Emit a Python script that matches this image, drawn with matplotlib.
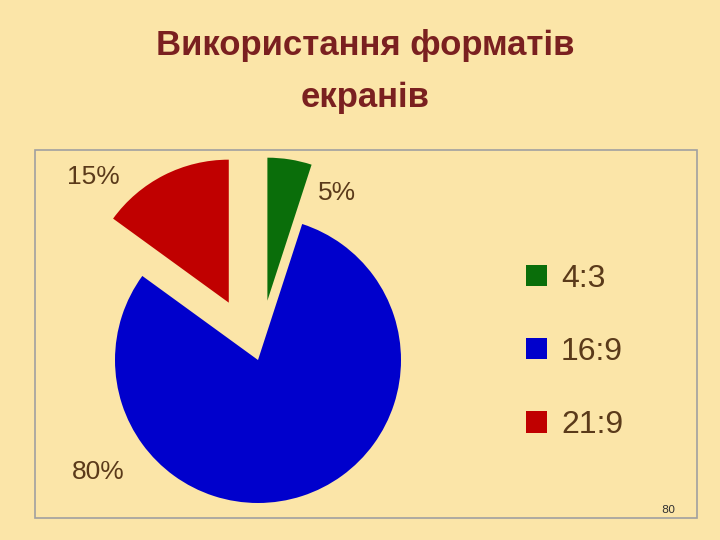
import matplotlib.pyplot as plt
from matplotlib.patches import Rectangle, Patch

categories = ['4:3', '16:9', '21:9']
shares = [5, 80, 15]
colors = ['#0A6E0A', '#0000CC', '#C00000']
explode = [0.42, 0, 0.45]
# label positions (data units, pie radius = 1)
label_pos = [(0.55, 1.17), (-1.12, -0.78), (-1.15, 1.28)]

bg = '#FBE5A8'
txt = '#5A3A1A'

fig = plt.figure(figsize=(7.2, 5.4), dpi=100, facecolor=bg)
fig.patches.append(Rectangle((35 / 720, 22 / 540), 662 / 720, 368 / 540,
                             transform=fig.transFigure, fill=False,
                             edgecolor='#A0A0A0', lw=1.2))
fig.text(365 / 720, 1 - 45 / 540, 'Використання форматів', ha='center', va='center',
         fontsize=25, fontweight='bold', color='#7A2020', family='Liberation Sans')
fig.text(365 / 720, 1 - 97 / 540, 'екранів', ha='center', va='center',
         fontsize=25, fontweight='bold', color='#7A2020', family='Liberation Sans')

ax = fig.add_axes([43.5 / 720, -34.5 / 540, 429 / 720, 429 / 540])
ax.set_facecolor('none')
ax.pie(shares, colors=colors, explode=explode, startangle=90, counterclock=False,
       radius=1, wedgeprops=dict(linewidth=0))
ax.set_xlim(-1.5, 1.5)
ax.set_ylim(-1.5, 1.5)
ax.set_aspect('equal')
ax.axis('off')
for (x, y), s in zip(label_pos, shares):
    ax.text(x, y, f'{s}%', ha='center', va='center', fontsize=19, color=txt,
            family='Liberation Sans', clip_on=False)

handles = [Patch(facecolor=c, edgecolor='none') for c in colors]
fig.legend(handles, categories, loc='center left', bbox_to_anchor=(497 / 720, 1 - 352 / 540),
           frameon=False, labelcolor=txt, labelspacing=1.35,
           handlelength=0.65, handleheight=0.65, handletextpad=0.45,
           prop={'family': 'Liberation Sans', 'size': 23})

fig.text(668 / 720, 1 - 510 / 540, '80', ha='center', va='center', fontsize=8, color='#333333')

fig.savefig('out.png', dpi=100, facecolor=bg)
